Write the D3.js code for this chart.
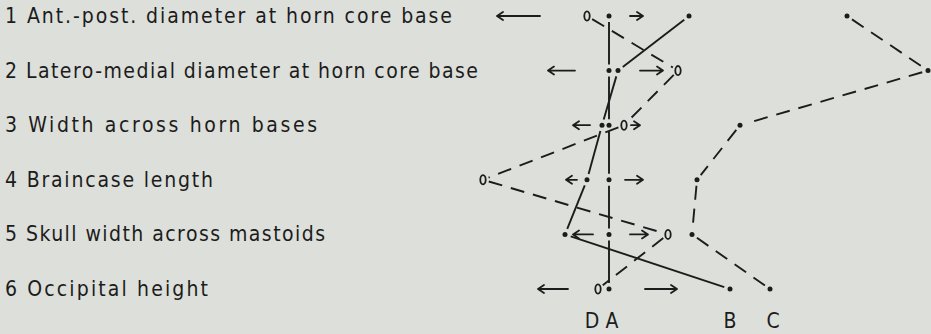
<!DOCTYPE html>
<html>
<head>
<meta charset="utf-8">
<script src="https://cdn.jsdelivr.net/npm/d3@7"></script>
<style>
  html, body { margin: 0; padding: 0; background: #dddfda; }
  svg { display: block; }
</style>
</head>
<body>
<script>
// Ratio diagram: log differences of each skull measurement from standard A.
const measures = [
  "1 Ant.-post. diameter at horn core base",
  "2 Latero-medial diameter at horn core base",
  "3 Width across horn bases",
  "4 Braincase length",
  "5 Skull width across mastoids",
  "6 Occipital height"
];
const seriesNames = ["A", "B", "C", "D"];
const valuesA = [0, 0, 0, 0, 0, 0];
const valuesB = [0.2, 0.0225, -0.0175, -0.055, -0.11, 0.3025];
const valuesC = [0.595, 0.7975, 0.3275, 0.22, 0.2075, 0.4025];
const valuesD = [-0.055, 0.1725, 0.0375, -0.315, 0.1475, -0.0275];

// Range arrows around the standard, per measurement.
const arrowLeftTip   = [-0.28, -0.1525, -0.09, -0.1075, -0.09, -0.1775];
const arrowLeftTail  = [-0.1725, -0.085, -0.0475, -0.08, -0.04, -0.1025];
const arrowRightTail = [0.0525, 0.0775, 0.055, 0.04, 0.0525, 0.09];
const arrowRightTip  = [0.085, 0.135, 0.0775, 0.085, 0.0975, 0.17];

// Width each measurement label is set to.
const labelWidths = [447, 473, 312, 208, 320, 203];

const W = 931, H = 334;
const ink = "#1c1c1c";
const paper = "#dddfda";

const svg = d3.select("body").append("svg")
  .attr("width", W).attr("height", H);

const x = d3.scaleLinear().domain([0, 1]).range([609, 1009]);
const y = d3.scalePoint().domain(measures).range([16, 289]);

const series = [
  { name: "A", values: valuesA, dashed: false, marker: "dot" },
  { name: "B", values: valuesB, dashed: false, marker: "dot" },
  { name: "C", values: valuesC, dashed: true,  marker: "dot" },
  { name: "D", values: valuesD, dashed: true,  marker: "ring" }
];

// Measurement labels
svg.append("g")
  .selectAll("text")
  .data(measures)
  .join("text")
  .attr("x", 5)
  .attr("y", d => y(d) + 7)
  .attr("textLength", (d, i) => labelWidths[i])
  .attr("lengthAdjust", "spacing")
  .attr("font-family", "'DejaVu Sans Condensed', 'DejaVu Sans', sans-serif")
  .attr("font-size", 21)
  .attr("fill", ink)
  .text(d => d);

// Arrows
function arrowPath(x0, x1, yy) {
  const dir = x1 > x0 ? 1 : -1;
  const h = 6, s = 4;
  return `M${x0},${yy}L${x1},${yy}M${x1 - dir * h},${yy - s}L${x1},${yy}L${x1 - dir * h},${yy + s}`;
}
const arrowG = svg.append("g")
  .attr("fill", "none").attr("stroke", ink)
  .attr("stroke-width", 1.8).attr("stroke-linecap", "round").attr("stroke-linejoin", "round");
measures.forEach((m, i) => {
  const yy = y(m);
  arrowG.append("path").attr("d", arrowPath(x(arrowLeftTail[i]), x(arrowLeftTip[i]), yy));
  arrowG.append("path").attr("d", arrowPath(x(arrowRightTail[i]), x(arrowRightTip[i]), yy));
});

// Connecting lines, drawn as segments that stop short of each marker
const gap = 6;
const lineG = svg.append("g")
  .attr("fill", "none").attr("stroke", ink)
  .attr("stroke-width", 1.9).attr("stroke-linecap", "butt");
series.forEach(s => {
  for (let i = 0; i < measures.length - 1; i++) {
    const x0 = x(s.values[i]), y0 = y(measures[i]);
    const x1 = x(s.values[i + 1]), y1 = y(measures[i + 1]);
    const len = Math.hypot(x1 - x0, y1 - y0);
    const ux = (x1 - x0) / len, uy = (y1 - y0) / len;
    lineG.append("line")
      .attr("x1", x0 + ux * gap).attr("y1", y0 + uy * gap)
      .attr("x2", x1 - ux * gap).attr("y2", y1 - uy * gap)
      .attr("stroke-dasharray", s.dashed ? "14,9" : null);
  }
});

// Markers
series.forEach(s => {
  const g = svg.append("g");
  if (s.marker === "dot") {
    g.selectAll("circle")
      .data(s.values)
      .join("circle")
      .attr("cx", d => x(d))
      .attr("cy", (d, i) => y(measures[i]))
      .attr("r", 2.5)
      .attr("fill", ink);
  } else {
    g.selectAll("ellipse")
      .data(s.values)
      .join("ellipse")
      .attr("cx", d => x(d))
      .attr("cy", (d, i) => y(measures[i]))
      .attr("rx", 2.7).attr("ry", 4.6)
      .attr("fill", paper)
      .attr("stroke", ink).attr("stroke-width", 1.8);
  }
});

// Series names below the last measurement
const nameOffset = { A: 3, B: 0, C: 3, D: -6 };
svg.append("g")
  .selectAll("text")
  .data(series)
  .join("text")
  .attr("x", s => x(s.values[s.values.length - 1]) + nameOffset[s.name])
  .attr("y", 328)
  .attr("text-anchor", "middle")
  .attr("font-family", "'DejaVu Sans Condensed', 'DejaVu Sans', sans-serif")
  .attr("font-size", 21)
  .attr("fill", ink)
  .text(s => s.name);
</script>
</body>
</html>
